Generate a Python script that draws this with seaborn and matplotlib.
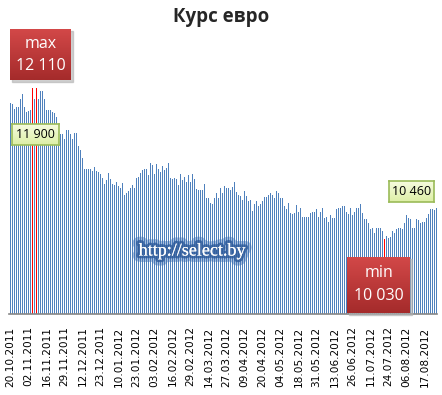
import numpy as np
import pandas as pd
import matplotlib
matplotlib.use('Agg')
from matplotlib import pyplot as plt
from matplotlib import patheffects as pe
from matplotlib.patches import Rectangle
import seaborn as sns

# daily EUR rate (BYR), 20.10.2011 .. end of Aug 2012
rates = [
    11900, 11890, 11820, 11850, 11850, 11960, 12030, 11850, 11780, 11790,
    11810, 12110, 11960, 12110, 11960, 12070, 12070, 11960, 11810, 11810,
    11810, 11780, 11760, 11710, 11590, 11480, 11480, 11410, 11530, 11530,
    11480, 11410, 11490, 11490, 11310, 11260, 11150, 10990, 10990, 10990,
    10990, 10970, 11020, 10970, 10950, 10930, 10870, 10790, 10840, 10940,
    10860, 10790, 10770, 10820, 10760, 10730, 10800, 10640, 10660, 10690,
    10730, 10770, 10730, 10870, 10880, 10940, 10980, 10990, 10990, 10910,
    11080, 11050, 10930, 11060, 10990, 10950, 11040, 10980, 11010, 11080,
    10870, 10860, 10870, 10860, 10770, 10930, 10840, 10880, 10820, 10910,
    10820, 10930, 10860, 10720, 10710, 10710, 10710, 10790, 10600, 10600,
    10530, 10510, 10600, 10660, 10600,
    10730, 10660, 10760, 10730, 10730, 10710, 10750, 10820, 10680, 10640,
    10620, 10570, 10690, 10620, 10550, 10570, 10420, 10510, 10550, 10490,
    10510, 10550, 10610, 10610, 10640, 10660, 10640, 10600, 10690, 10660,
    10600, 10600, 10490, 10440, 10530, 10390, 10380, 10390, 10500, 10400,
    10460, 10330, 10330, 10330, 10330, 10390, 10400, 10400, 10440, 10330,
    10400, 10460, 10320, 10330, 10270, 10360, 10320, 10320, 10440, 10460,
    10460, 10490, 10490, 10400, 10380, 10460, 10360, 10400, 10460, 10460,
    10510, 10390, 10310, 10310, 10250, 10170, 10180, 10110, 10180, 10180,
    10180, 10140, 10030, 10070, 10050, 10060, 10140, 10110, 10170, 10180,
    10180, 10170, 10250, 10360, 10320, 10310, 10180, 10180, 10310, 10290,
    10250, 10270, 10270, 10320, 10380, 10440, 10440, 10430, 10460,
]
tick_labels = [
    '20.10.2011', '02.11.2011', '16.11.2011', '29.11.2011', '12.12.2011',
    '23.12.2011', '10.01.2012', '23.01.2012', '03.02.2012', '16.02.2012',
    '29.02.2012', '14.03.2012', '27.03.2012', '09.04.2012', '20.04.2012',
    '04.05.2012', '18.05.2012', '31.05.2012', '13.06.2012', '26.06.2012',
    '11.07.2012', '24.07.2012', '06.08.2012', '17.08.2012',
]
max_days = [11, 13]
min_days = [187]
max_value = 12110
min_value = 10030
first_value = 11900
last_value = 10460

W, H = 442, 395
BLUE = '#4F81BD'

df = pd.DataFrame({'day': np.arange(len(rates)), 'rate': rates})
df['kind'] = 'normal'
df.loc[df['day'].isin(max_days + min_days), 'kind'] = 'extreme'

sns.set_style('white')
plt.rcParams['font.family'] = ['DejaVu Sans']

fig = plt.figure(figsize=(W / 100, H / 100), dpi=100)
# 2 px per day, baseline at y=314
n = len(rates)
ax = fig.add_axes([9 / W, (H - 314) / H, 2 * n / W, 254.5 / H])

sns.barplot(data=df, x='day', y='rate', hue='kind',
            palette={'normal': BLUE, 'extreme': '#FF0000'},
            dodge=False, width=0.5, legend=False, ax=ax,
            saturation=1, linewidth=0)
for p in ax.patches:
    p.set_antialiased(False)
ax.set_ylim(9000, 12500)
ax.set_xlim(-0.75, n - 0.75)

ax.set_xticks(range(0, n, 9)[:len(tick_labels)])
ax.set_xticklabels(tick_labels, rotation=90, fontsize=7.6, color='black')
ax.set_yticks([])
ax.tick_params(axis='x', length=0, pad=9)
ax.set_xlabel('')
ax.set_ylabel('')
for s in ['top', 'right', 'left']:
    ax.spines[s].set_visible(False)
ax.spines['bottom'].set_color('#868686')
ax.spines['bottom'].set_linewidth(1.2)

fig.text(0.5, 1 - 17 / H, 'Курс евро', ha='center', va='center',
         fontsize=13.5, fontweight='bold', family=['Open Sans', 'DejaVu Sans'])


def fmt(v):
    return f'{v:,}'.replace(',', ' ')


def box(x0, y0, w, h, top, bottom, edge=None, shadow=True):
    # gradient box placed in pixel coords (from top-left)
    if shadow:
        fig.add_artist(Rectangle(((x0 + 2) / W, (H - y0 - h - 2) / H), w / W, h / H,
                                 transform=fig.transFigure, color='#b0b0b0',
                                 alpha=0.6, zorder=5))
    bax = fig.add_axes([x0 / W, (H - y0 - h) / H, w / W, h / H], zorder=6)
    grad = np.linspace(0, 1, 50)[:, None]
    c1 = np.array(matplotlib.colors.to_rgb(top))
    c2 = np.array(matplotlib.colors.to_rgb(bottom))
    img = c1[None, None, :] * (1 - grad[:, :, None]) + c2[None, None, :] * grad[:, :, None]
    bax.imshow(img, aspect='auto', extent=[0, 1, 0, 1])
    bax.set_xticks([])
    bax.set_yticks([])
    for s in bax.spines.values():
        if edge:
            s.set_color(edge)
            s.set_linewidth(1.2)
        else:
            s.set_visible(False)
    return bax


mx = box(10, 29, 61, 51, '#D24848', '#A52B2B')
mx.text(0.5, 0.7, 'max', color='white', ha='center', va='center', fontsize=11.5,
        family=['Open Sans', 'DejaVu Sans'])
mx.text(0.5, 0.27, fmt(max_value), color='white', ha='center', va='center', fontsize=11.5,
        family=['Open Sans', 'DejaVu Sans'])

mn = box(347, 257, 63, 56, '#D24848', '#A52B2B')
mn.text(0.5, 0.72, 'min', color='white', ha='center', va='center', fontsize=11.5,
        family=['Open Sans', 'DejaVu Sans'])
mn.text(0.5, 0.3, fmt(min_value), color='white', ha='center', va='center', fontsize=11.5,
        family=['Open Sans', 'DejaVu Sans'])

g1 = box(12, 124, 47, 21, '#F6FBDF', '#DDEFA6', edge='#9BBB59', shadow=False)
g1.text(0.5, 0.5, fmt(first_value), color='black', ha='center', va='center', fontsize=9,
        family=['Open Sans', 'DejaVu Sans'])
g2 = box(389, 181, 45, 21, '#F6FBDF', '#DDEFA6', edge='#9BBB59', shadow=False)
g2.text(0.5, 0.5, fmt(last_value), color='black', ha='center', va='center', fontsize=9,
        family=['Open Sans', 'DejaVu Sans'])

fig.text(192 / W, 1 - 251 / H, 'http://select.by', ha='center', va='center',
         fontsize=13, color='white', family=['Liberation Serif', 'DejaVu Serif'],
         zorder=7,
         path_effects=[pe.withStroke(linewidth=9, foreground='#3d6db0', alpha=0.45),
                       pe.withStroke(linewidth=4, foreground='#2d5a9a', alpha=0.8),
                       pe.Normal()])

plt.savefig('out.png', dpi=100)
